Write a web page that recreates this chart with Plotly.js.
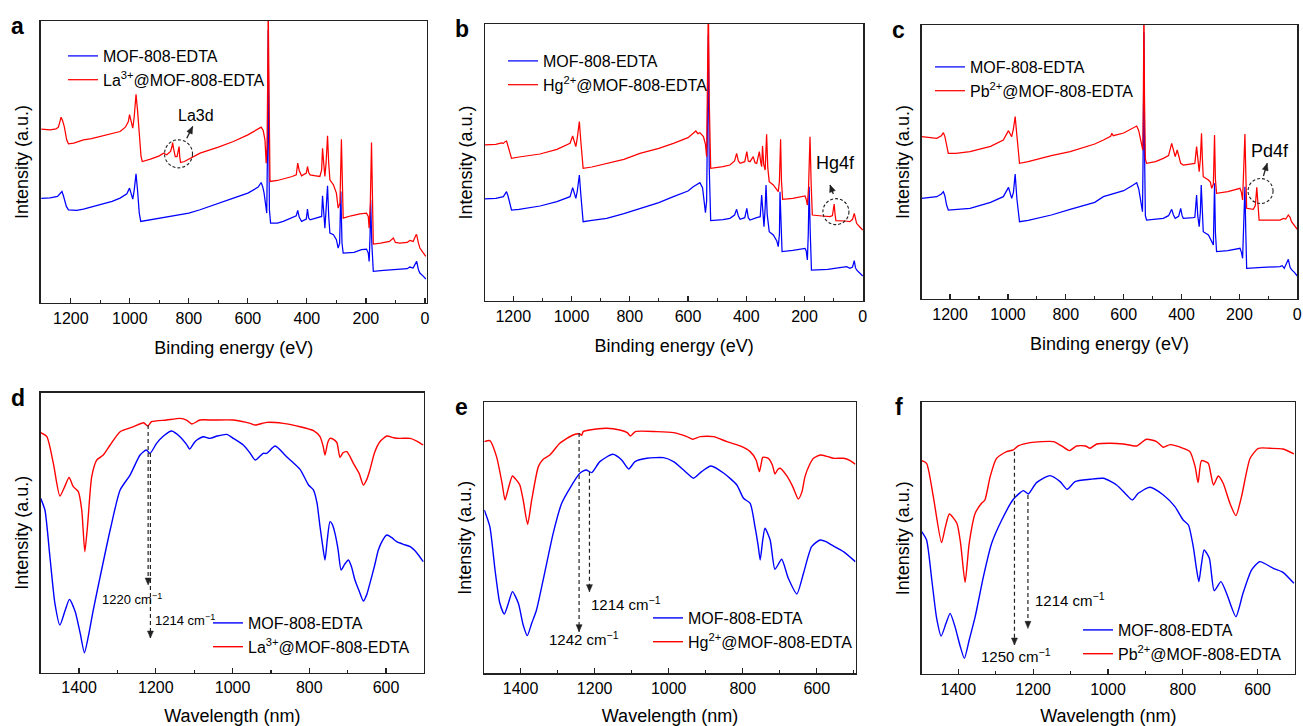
<!DOCTYPE html>
<html><head><meta charset="utf-8">
<script src="https://cdn.plot.ly/plotly-3.0.1.min.js"></script>
<style>html,body{margin:0;padding:0;background:#fff}#chart{width:1303px;height:726px}</style>
</head><body><div id="chart"></div><script>
// ---------- XPS survey spectra (binding energy in eV, intensity a.u.) ----------
const aRedX = [1300,1270,1250,1242,1236,1233,1228,1222,1214,1208,1190,1157,1130,1100,1060,1033,1015,1005,1001,996,990,985,979,974,968,962,958,930,900,886,875,862,857,855,852,846,840,836,833,831,828,815,800,762,700,649,600,581,565,555,548,542,538,535,533,531,529,527,525,500,480,450,436,431,426,418,402,398,394,389,370,356,350,347,343,339,335,330,326,322,310,300,294,288,283,280,277,250,220,198,192,189,185,181,178,175,150,120,107,100,85,60,51,40,30,28,22,17,5,-3];
const aRedY = [522,520,523,528,548,558,548,530,490,478,480,490,494,500,508,515,528,545,566,550,525,560,627,580,500,440,425,432,442,450,445,455,470,482,465,440,440,455,470,440,422,425,432,450,468,485,505,515,522,528,518,490,420,470,650,900,700,420,365,368,372,380,385,420,398,382,390,410,392,385,382,380,400,465,420,380,420,502,420,370,355,330,285,300,492,300,255,262,268,270,260,225,300,482,300,177,180,185,195,182,180,182,188,185,205,205,180,165,150,140];
const aBlueX = [1300,1270,1245,1236,1230,1225,1215,1208,1180,1157,1100,1060,1033,1010,1001,995,990,985,979,974,968,963,930,875,800,762,700,649,600,581,565,555,550,545,540,536,533,531,529,527,523,500,480,450,436,431,426,418,402,398,394,389,370,350,347,343,339,335,330,326,322,310,300,294,289,285,281,277,240,215,198,192,189,186,184,180,175,140,100,60,51,40,30,28,22,17,5,-3];
const aBlueY = [314,316,320,328,335,322,290,280,278,282,295,305,315,328,345,330,312,340,388,340,270,245,250,260,270,280,298,315,330,340,348,362,350,330,300,270,500,820,500,280,240,240,245,255,262,278,258,245,252,282,255,250,255,260,322,265,225,280,352,260,210,205,190,165,180,335,180,150,152,160,162,150,125,200,310,180,95,98,100,103,108,105,122,125,100,90,80,72];

const bRedX = [1297,1260,1240,1234,1228,1223,1218,1206,1180,1108,1050,1005,996,990,985,980,973,968,960,930,879,820,765,700,650,600,582,573,566,559,547,540,536,533,530,527,524,522,480,456,440,433,427,421,405,398,393,387,376,370,364,355,350,347,344,340,335,330,326,321,307,295,290,286,282,279,275,240,198,194,190,186,181,177,173,140,112,104,98,95,92,60,44,35,29,25,21,10,0];
const bRedY = [468,470,474,473,478,480,465,428,432,441,455,473,495,475,463,490,538,480,398,402,413,425,443,458,473,490,503,510,502,505,493,470,433,600,900,600,420,398,403,408,420,443,420,413,418,448,420,418,433,415,413,448,415,403,465,410,393,500,400,358,348,335,328,360,485,360,305,308,315,305,288,340,493,350,258,255,253,256,291,260,241,240,238,245,263,248,233,222,213];
const bBlueX = [1297,1260,1234,1228,1223,1218,1206,1180,1108,1050,1005,996,990,985,980,973,968,960,930,879,820,765,700,650,600,582,570,559,550,545,540,536,533,530,527,524,522,480,456,440,433,427,421,405,398,393,387,364,352,347,342,339,335,332,328,321,307,295,290,286,284,280,277,240,198,194,190,187,184,180,176,120,55,44,35,29,25,21,10,0];
const bBlueY = [306,308,313,320,328,315,273,275,285,298,313,340,320,308,330,378,320,238,242,248,262,278,295,313,330,343,348,355,340,310,265,300,600,800,400,260,241,244,248,258,275,255,245,250,278,250,243,250,253,318,250,223,280,348,260,208,198,180,163,200,328,200,148,152,158,150,123,200,343,200,93,95,103,98,102,121,100,93,85,75];

const cRedX = [1298,1270,1246,1230,1223,1218,1212,1206,1180,1131,1060,1016,998,992,987,981,975,969,960,930,901,850,785,700,670,645,641,636,600,567,560,555,548,541,534,532,530,528,525,521,490,463,445,434,428,422,415,409,403,394,370,354,348,344,339,335,331,328,325,307,300,296,290,286,283,279,240,198,193,189,185,181,178,175,152,145,140,136,132,100,60,48,40,31,25,20,10,0];
const cRedY = [487,484,482,490,499,488,460,437,437,442,458,477,505,495,487,510,547,490,407,412,419,430,442,465,477,488,497,490,498,512,515,519,505,477,447,600,900,600,420,407,412,422,430,467,445,427,447,430,407,402,405,407,457,420,382,420,497,420,367,357,350,332,345,492,360,317,322,332,320,297,380,495,380,272,269,280,335,290,237,237,237,242,240,252,245,232,220,209];
const cBlueX = [1298,1270,1246,1230,1223,1218,1212,1206,1180,1131,1060,1016,998,992,987,981,975,969,960,930,901,850,785,700,670,600,567,555,548,541,535,532,530,528,525,521,490,463,445,434,428,422,410,403,398,394,360,354,348,344,339,335,332,328,325,307,296,290,286,283,279,240,198,193,189,185,181,178,175,120,60,52,45,31,25,20,10,0];
const cBlueY = [302,304,307,315,322,310,282,267,268,272,290,307,335,318,302,320,375,300,232,236,242,252,269,290,307,325,342,349,330,297,262,500,800,450,250,237,240,242,250,269,252,242,248,272,250,242,244,245,312,250,217,260,342,240,202,192,175,162,347,200,142,145,152,140,122,250,337,200,92,95,97,100,92,119,95,88,80,69];

// ---------- FTIR spectra (wavenumber axis, intensity a.u.) ----------
const dRedX = [1500,1484,1467,1450,1436,1426,1415,1402,1393,1385,1378,1367,1354,1337,1319,1293,1258,1232,1221,1211,1172,1137,1120,1106,1085,1050,998,954,941,911,868,824,789,772,764,759,752,746,737,728,720,712,702,685,670,659,650,642,630,616,598,580,564,537,520,503];
const dRedY = [720,708,628,530,562,586,558,543,488,363,440,588,638,653,683,723,738,750,740,753,758,763,758,746,758,758,758,748,743,751,748,738,726,708,680,653,690,703,700,690,646,660,663,628,598,563,580,608,660,693,710,705,703,703,695,683];
const dBlueX = [1500,1489,1476,1463,1450,1436,1425,1410,1397,1386,1376,1363,1345,1319,1293,1267,1241,1225,1215,1198,1180,1159,1137,1120,1112,1100,1093,1076,1059,1040,1015,998,972,955,941,928,920,911,889,859,824,802,789,780,772,765,759,753,746,740,733,725,717,708,698,690,681,670,659,650,642,630,620,610,598,585,572,555,537,520,503];
const dBlueY = [523,488,348,208,143,188,220,183,118,60,108,188,288,428,548,593,653,668,658,688,710,725,708,685,671,690,698,708,703,710,715,703,683,660,638,650,658,658,680,648,610,563,548,510,438,380,338,400,453,445,418,370,308,325,338,318,278,245,215,235,268,320,368,395,413,405,393,385,378,360,333];

const eRedX = [1498,1483,1465,1450,1442,1433,1422,1410,1402,1393,1381,1370,1352,1339,1321,1294,1258,1240,1235,1231,1213,1168,1132,1112,1103,1090,1032,987,951,935,915,879,843,807,780,764,758,755,750,746,731,720,713,705,699,681,665,650,640,632,620,609,591,570,555,528,510,496];
const eRedY = [695,698,650,570,520,555,592,578,565,520,447,520,620,642,655,690,715,718,714,725,730,735,730,722,712,725,725,722,710,702,710,710,695,682,665,640,615,605,630,648,645,625,598,612,615,592,560,523,545,590,625,645,655,650,645,645,638,627];
const eBlueX = [1498,1483,1469,1456,1444,1433,1422,1406,1393,1382,1370,1357,1339,1312,1289,1267,1240,1223,1208,1186,1151,1127,1108,1091,1059,1014,987,960,945,933,911,886,851,816,798,780,767,758,753,746,740,726,713,695,677,654,636,614,591,575,560,528,496];
const eBlueY = [490,440,310,210,178,210,245,210,145,113,150,190,280,420,510,555,600,610,602,635,657,640,613,635,645,647,635,610,595,585,605,622,600,565,525,510,440,380,340,400,435,400,312,342,285,238,300,380,400,395,385,365,335];

const fRedX = [1498,1485,1467,1445,1435,1424,1404,1394,1382,1371,1355,1338,1329,1315,1298,1271,1253,1240,1208,1146,1124,1103,1084,1060,1048,1030,995,959,923,897,870,852,834,799,781,767,759,750,732,725,718,705,692,674,658,643,620,598,567,532,503];
const fRedY = [640,632,532,394,440,480,452,392,275,392,482,512,522,592,647,667,672,684,694,697,684,670,684,684,677,690,692,690,684,704,697,680,688,677,667,622,574,640,632,600,567,594,572,512,475,532,647,677,677,675,660];
const fBlueX = [1498,1485,1471,1458,1446,1433,1422,1409,1396,1384,1371,1355,1333,1311,1284,1253,1226,1213,1191,1155,1128,1109,1088,1048,1012,977,950,935,919,888,852,821,799,785,772,764,757,750,743,729,716,698,683,658,639,616,594,558,532,503];
const fBlueY = [427,402,282,167,114,152,182,142,87,47,102,172,292,392,462,524,550,540,574,595,577,554,577,584,587,567,537,522,542,560,537,502,462,447,382,320,277,330,372,347,250,277,242,172,242,312,337,317,305,272];

// ---------- labels ----------
const panelLetters = ['a','b','c','d','e','f'];
const blueName = 'MOF-808-EDTA';
const redNames = ['La<sup>3+</sup>@MOF-808-EDTA','Hg<sup>2+</sup>@MOF-808-EDTA','Pb<sup>2+</sup>@MOF-808-EDTA'];
const xpsTitle = 'Binding energy (eV)';
const irTitle = 'Wavelength (nm)';
const yTitle = 'Intensity (a.u.)';
const peakLabels = ['La3d','Hg4f','Pd4f'];
const irMarks = [[1220,1214],[1242,1214],[1250,1214]];

// ---------- layout helpers ----------
const W = 1303, H = 726;
const FONT = 'Arial, "Liberation Sans", Helvetica, sans-serif';
const BLUE = '#0000ff', RED = '#ff0000', INK = '#222';
// plot boxes in px: left, right, top, bottom
const boxes = [
  [40.7, 426.7, 21, 303],
  [485, 863.3, 24, 301],
  [921.7, 1297.3, 25, 299],
  [40.7, 424, 392.7, 672.7],
  [484.3, 855.7, 402.3, 673.3],
  [921.7, 1295, 402.3, 674]
];
const xRanges = [[1302,-6],[1297,-2],[1298,0],[1500,501],[1498,495],[1498,500]];
const yRanges = [[0,847],[0,831],[0,822],[0,840],[0,813],[0,815]];
const legendPos = [[68,53],[508,58],[935,64],[213,620],[653,615],[1083,627]];

const series = [
  [aBlueX,aBlueY,aRedX,aRedY],[bBlueX,bBlueY,bRedX,bRedY],[cBlueX,cBlueY,cRedX,cRedY],
  [dBlueX,dBlueY,dRedX,dRedY],[eBlueX,eBlueY,eRedX,eRedY],[fBlueX,fBlueY,fRedX,fRedY]
];

const traces = [];
const layout = {
  width: W, height: H, margin: {l:0,r:0,t:0,b:0},
  paper_bgcolor: '#fff', plot_bgcolor: '#fff',
  font: {family: FONT, color: '#000', size: 15},
  showlegend: true, shapes: [], annotations: []
};

for (let i = 0; i < 6; i++) {
  const s = i === 0 ? '' : String(i + 1);
  const b = boxes[i];
  const ir = i >= 3;
  const [bx, by, rx, ry] = series[i];
  const lineShape = ir ? {color: BLUE, width: 1.4, shape: 'spline', smoothing: 0.6} : {color: BLUE, width: 1.25};
  traces.push({x: bx, y: by, type: 'scatter', mode: 'lines', name: blueName,
    line: lineShape, xaxis: 'x' + s, yaxis: 'y' + s, legend: 'legend' + s, hoverinfo: 'skip'});
  traces.push({x: rx, y: ry, type: 'scatter', mode: 'lines', name: redNames[i % 3],
    line: Object.assign({}, lineShape, {color: RED}), xaxis: 'x' + s, yaxis: 'y' + s, legend: 'legend' + s, hoverinfo: 'skip'});

  layout['xaxis' + s] = {
    domain: [b[0] / W, b[1] / W], range: xRanges[i], anchor: 'y' + s,
    showline: true, mirror: true, linecolor: INK, linewidth: 1.3,
    ticks: 'inside', ticklen: 5, tickwidth: 1.2, tickcolor: INK, dtick: 200, tick0: 0,
    minor: {dtick: 100, ticks: 'inside', ticklen: 3, tickwidth: 1.2, tickcolor: INK, showgrid: false},
    showgrid: false, zeroline: false,
    tickfont: {size: 16, family: FONT, color: '#000'},
    title: {text: ir ? irTitle : xpsTitle, font: {size: 18, family: FONT, color: '#000'}, standoff: 16}
  };
  layout['yaxis' + s] = {
    domain: [1 - b[3] / H, 1 - b[2] / H], range: yRanges[i], anchor: 'x' + s,
    showline: true, mirror: true, linecolor: INK, linewidth: 1.3,
    ticks: '', showticklabels: false, showgrid: false, zeroline: false,
    title: {text: yTitle, font: {size: 18, family: FONT, color: '#000'}, standoff: 6}
  };
  const lp = legendPos[i];
  layout['legend' + s] = {
    x: (lp[0] - 5) / W, y: 1 - (lp[1] - 14) / H, xanchor: 'left', yanchor: 'top',
    bgcolor: 'rgba(0,0,0,0)', borderwidth: 0, font: {size: 16, family: FONT, color: '#000'},
    tracegroupgap: 0, itemclick: false
  };
  layout.annotations.push({xref: 'paper', yref: 'paper', x: (b[0] - 23) / W, y: 1 - (b[2] + 5) / H,
    xanchor: 'center', yanchor: 'middle', showarrow: false,
    text: '<b>' + panelLetters[i] + '</b>', font: {size: 23, family: FONT, color: '#000'}});
}

// pixel-anchored arrowhead pointing along (ux, uy) (pixel units, y up)
function arrowHead(xref, yref, x, y, ux, uy) {
  const L = 7, w = 3;
  const n = Math.hypot(ux, uy); ux /= n; uy /= n;
  const p1 = [-L * ux - w * uy, -L * uy + w * ux];
  const p2 = [-L * ux + w * uy, -L * uy - w * ux];
  return {type: 'path', xref, yref, xsizemode: 'pixel', ysizemode: 'pixel', xanchor: x, yanchor: y,
    path: `M0,0 L${p1[0].toFixed(2)},${p1[1].toFixed(2)} L${p2[0].toFixed(2)},${p2[1].toFixed(2)} Z`,
    fillcolor: INK, line: {color: INK, width: 0.5}};
}
function pxPerUnit(i) {
  const b = boxes[i];
  return [(b[1] - b[0]) / (xRanges[i][1] - xRanges[i][0]), (b[3] - b[2]) / (yRanges[i][1] - yRanges[i][0])];
}

// XPS peak callouts (circle + arrow + label)
const callouts = [
  {c: [835, 448], r: 14, head: [787, 530], tail: [807, 495], t: [777, 563], fs: 16},
  {c: [92, 268], r: 13, head: [112, 348], tail: [101, 321], t: [92, 413], fs: 18},
  {c: [127, 324], r: 12.5, head: [104, 407], tail: [117, 369], t: [94, 445], fs: 18}
];
callouts.forEach((co, i) => {
  const s = i === 0 ? '' : String(i + 1);
  const xr = 'x' + s, yr = 'y' + s;
  layout.shapes.push({type: 'circle', xref: xr, yref: yr, xsizemode: 'pixel', ysizemode: 'pixel',
    xanchor: co.c[0], yanchor: co.c[1], x0: -co.r, x1: co.r, y0: -co.r, y1: co.r,
    line: {color: INK, width: 1.1, dash: '3px,2px'}});
  layout.shapes.push({type: 'line', xref: xr, yref: yr, x0: co.tail[0], y0: co.tail[1], x1: co.head[0], y1: co.head[1],
    line: {color: INK, width: 1.3}});
  const k = pxPerUnit(i);
  layout.shapes.push(arrowHead(xr, yr, co.head[0], co.head[1],
    (co.head[0] - co.tail[0]) * k[0], (co.head[1] - co.tail[1]) * k[1]));
  layout.annotations.push({xref: xr, yref: yr, x: co.t[0], y: co.t[1], text: peakLabels[i],
    showarrow: false, font: {size: co.fs, family: FONT, color: '#000'}});
});

// FTIR dashed arrows and wavenumber labels
const irArrows = [
  [{top: 743, tip: 263, lx: 1345, ly: 221, fs: 13}, {top: 659, tip: 104, lx: 1207, ly: 158, fs: 13}],
  [{top: 721, tip: 125, lx: 1330, ly: 103, fs: 15}, {top: 605, tip: 245, lx: 1215, ly: 208, fs: 15}],
  [{top: 667, tip: 87, lx: 1345, ly: 57, fs: 15}, {top: 537, tip: 137, lx: 1201, ly: 222, fs: 15}]
];
irArrows.forEach((pair, k) => {
  const s = String(k + 4);
  pair.forEach((a, j) => {
    const wn = irMarks[k][j];
    layout.shapes.push({type: 'line', xref: 'x' + s, yref: 'y' + s, x0: wn, x1: wn, y0: a.top, y1: a.tip,
      line: {color: INK, width: 1.2, dash: '4px,3px'}});
    layout.shapes.push(arrowHead('x' + s, 'y' + s, wn, a.tip, 0, -1));
    layout.annotations.push({xref: 'x' + s, yref: 'y' + s, x: a.lx, y: a.ly, xanchor: 'left', yanchor: 'middle',
      text: wn + ' cm<sup>−1</sup>', showarrow: false, font: {size: a.fs, family: FONT, color: '#000'}});
  });
});

Plotly.newPlot('chart', traces, layout, {staticPlot: true, displayModeBar: false});
</script></body></html>
